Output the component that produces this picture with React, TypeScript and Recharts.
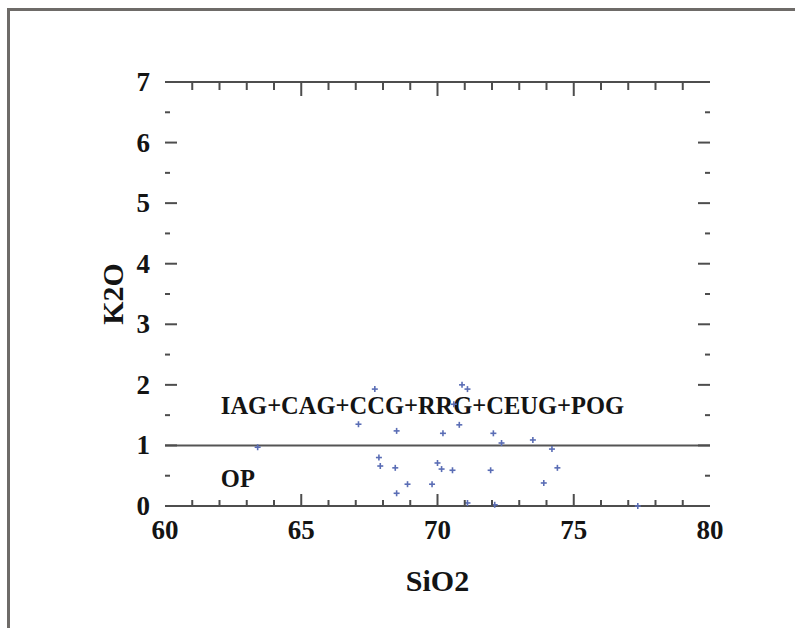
import React from 'react'
import { ScatterChart, Scatter, XAxis, YAxis, ReferenceLine, ReferenceDot } from 'recharts'

// SiO2 (wt%) and K2O (wt%)
const sio2 = [63.4, 67.1, 67.7, 67.85, 67.9, 68.5, 68.45, 68.5, 68.9, 69.8, 70.0, 70.15, 70.2, 70.55, 70.6, 70.8, 70.9, 71.1, 71.1, 71.95, 72.05, 72.1, 72.35, 73.5, 73.9, 74.2, 74.4, 77.35]
const k2o = [0.97, 1.35, 1.93, 0.8, 0.66, 1.24, 0.63, 0.21, 0.36, 0.36, 0.71, 0.61, 1.2, 0.59, 1.68, 1.34, 2.0, 1.93, 0.05, 0.59, 1.2, 0.02, 1.04, 1.09, 0.38, 0.94, 0.63, 0.0]

const xTicks = [60, 61, 62, 63, 64, 65, 66, 67, 68, 69, 70, 71, 72, 73, 74, 75, 76, 77, 78, 79, 80]
const yTicks = [0, 0.5, 1, 1.5, 2, 2.5, 3, 3.5, 4, 4.5, 5, 5.5, 6, 6.5, 7]

const divider = 1
const fieldNames = [
  { name: 'IAG+CAG+CCG+RRG+CEUG+POG', x: 62.05, y: 1.52 },
  { name: 'OP', x: 62.05, y: 0.31 },
]

const data = sio2.map((x, i) => ({ x, y: k2o[i] }))

const FONT = '"Liberation Serif", "Times New Roman", serif'
const AXIS = '#4d4d4d'
const INK = '#141414'

// plot box (chart margins + axis sizes)
const W = 795
const H = 628
const M = { top: 81, right: 85, bottom: 62, left: 105 }
const PLOT_TOP = M.top + 1
const PLOT_RIGHT = W - M.right

// ticks point inward on all four sides
const BottomTick = (p: any) => {
  const v = p.payload.value
  const major = v % 5 === 0
  const edge = v <= 60 || v >= 80
  return (
    <g>
      {!edge && <line x1={p.x} x2={p.x} y1={p.y} y2={p.y - (major ? 12 : 6)} stroke={AXIS} strokeWidth={2} />}
      {!edge && <line x1={p.x} x2={p.x} y1={PLOT_TOP} y2={PLOT_TOP + (major ? 14 : 8)} stroke={AXIS} strokeWidth={2} />}
      {major && (
        <text x={p.x} y={p.y + 33} textAnchor="middle" fontFamily={FONT} fontWeight="bold" fontSize={27} fill={INK}>
          {v}
        </text>
      )}
    </g>
  )
}

const LeftTick = (p: any) => {
  const v = p.payload.value
  const major = Number.isInteger(v)
  const len = major ? 12 : 5
  return (
    <g>
      <line x1={p.x} x2={p.x + len} y1={p.y} y2={p.y} stroke={AXIS} strokeWidth={2} />
      <line x1={PLOT_RIGHT} x2={PLOT_RIGHT - len} y1={p.y} y2={p.y} stroke={AXIS} strokeWidth={2} />
      {major && (
        <text x={p.x - 15} y={p.y + 9} textAnchor="end" fontFamily={FONT} fontWeight="bold" fontSize={27} fill={INK}>
          {v}
        </text>
      )}
    </g>
  )
}

const Plus = (p: any) => (
  <g stroke="#5a6db5" strokeWidth={1.6}>
    <line x1={p.cx - 3} x2={p.cx + 3} y1={p.cy} y2={p.cy} />
    <line x1={p.cx} x2={p.cx} y1={p.cy - 3} y2={p.cy + 3} />
  </g>
)

const App = () => {
  return (
    <div style={{ position: 'absolute', left: 0, top: 0, width: W, height: H, background: '#fff' }}>
      <div
        style={{
          position: 'absolute',
          left: 7,
          top: 8,
          width: 788,
          height: 620,
          borderTop: '3px solid #6e6b68',
          borderLeft: '3px solid #6e6b68',
        }}
      />
      <div style={{ position: 'absolute', left: 0, top: 0 }}>
        <ScatterChart width={W} height={H} margin={M}>
          <XAxis
            xAxisId="b"
            type="number"
            dataKey="x"
            domain={[60, 80]}
            ticks={xTicks}
            interval={0}
            height={60}
            tickSize={0}
            tickMargin={0}
            tick={<BottomTick />}
            axisLine={{ stroke: AXIS, strokeWidth: 2 }}
            label={{
              content: (lp: any) => {
                const vb = lp.viewBox
                return (
                  <text x={vb.x + vb.width / 2} y={vb.y + 85} textAnchor="middle" fontFamily={FONT} fontWeight="bold" fontSize={30} fill={INK}>
                    SiO2
                  </text>
                )
              },
            }}
          />
          <XAxis
            xAxisId="t"
            orientation="top"
            type="number"
            dataKey="x"
            domain={[60, 80]}
            height={1}
            tick={false}
            tickLine={false}
            axisLine={{ stroke: AXIS, strokeWidth: 2 }}
          />
          <YAxis
            yAxisId="l"
            type="number"
            dataKey="y"
            domain={[0, 7]}
            ticks={yTicks}
            interval={0}
            width={60}
            tickSize={0}
            tickMargin={0}
            tick={<LeftTick />}
            axisLine={false}
            label={{
              content: (lp: any) => {
                const vb = lp.viewBox
                const cx = vb.x + 7
                const cy = vb.y + vb.height / 2
                return (
                  <text x={cx} y={cy} transform={`rotate(-90 ${cx} ${cy})`} textAnchor="middle" dominantBaseline="central" fontFamily={FONT} fontWeight="bold" fontSize={30} fill={INK}>
                    K2O
                  </text>
                )
              },
            }}
          />
          <ReferenceLine xAxisId="b" yAxisId="l" y={divider} stroke="#555" strokeWidth={2} />
          {fieldNames.map((f) => (
            <ReferenceDot
              key={f.name}
              xAxisId="b"
              yAxisId="l"
              x={f.x}
              y={f.y}
              r={0}
              shape={(sp: any) => (
                <text x={sp.cx} y={sp.cy} fontFamily={FONT} fontWeight="bold" fontSize={24.5} fill={INK}>
                  {f.name}
                </text>
              )}
            />
          ))}
          <Scatter xAxisId="b" yAxisId="l" data={data} shape={<Plus />} isAnimationActive={false} />
        </ScatterChart>
      </div>
    </div>
  )
}

export default App
